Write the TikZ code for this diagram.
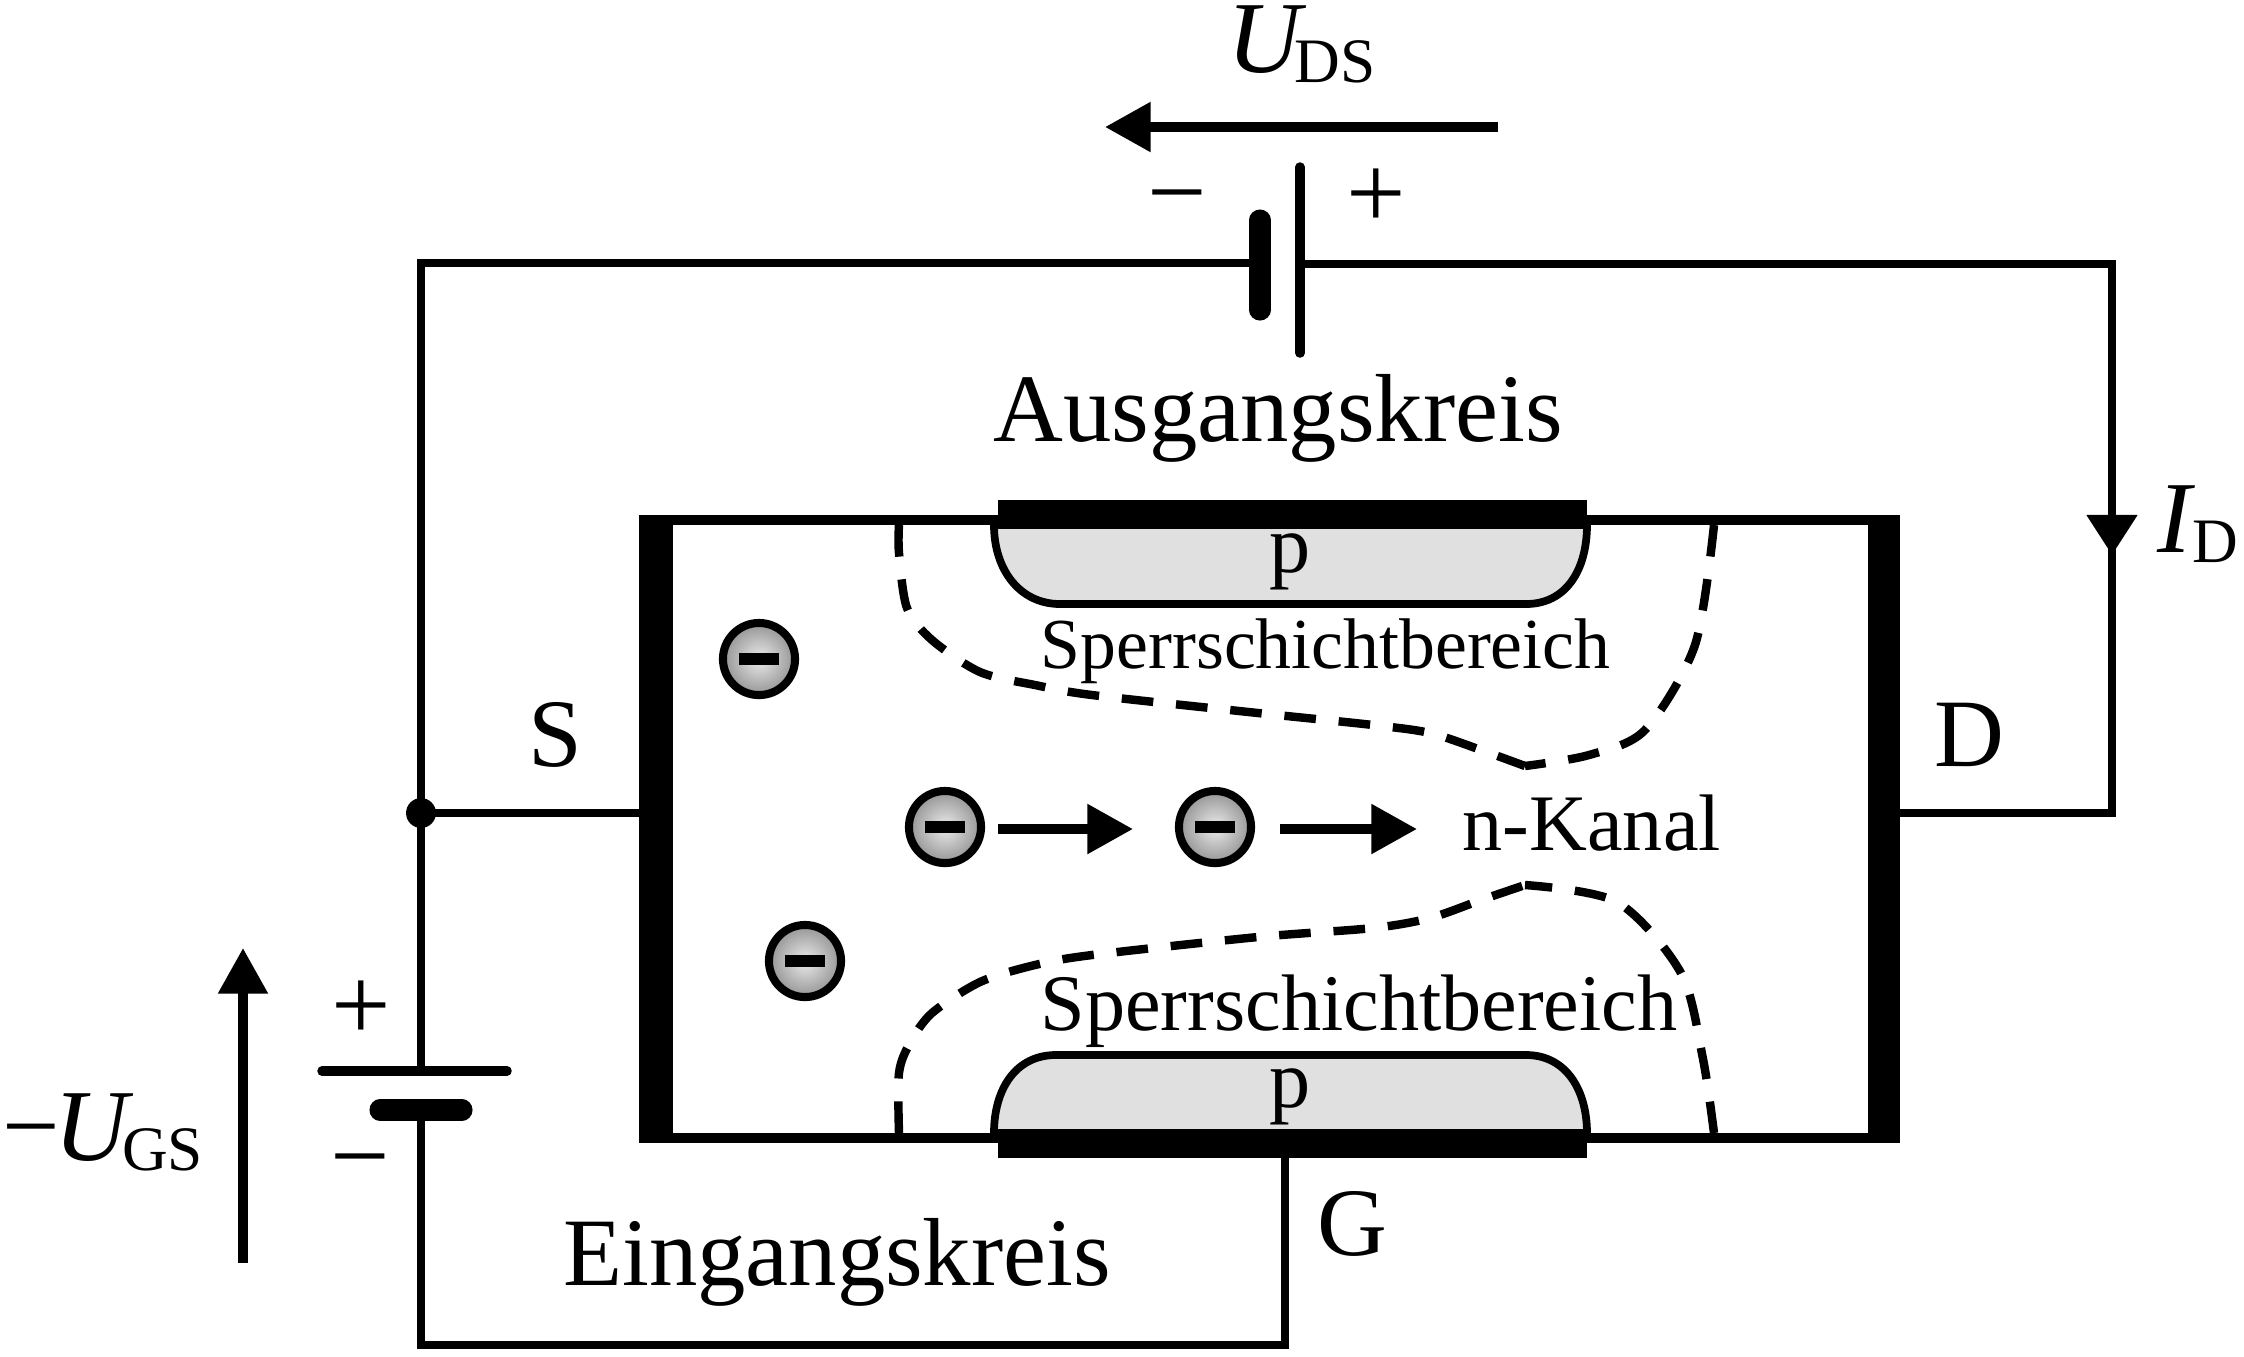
\documentclass[tikz,border=0pt]{standalone}
\usepackage{fontspec}
\setmainfont{Liberation Serif}
\usepackage{tikz}
\usetikzlibrary{arrows.meta}

\newcommand{\fs}[1]{\fontsize{#1}{#1}\selectfont}
\newcommand{\subfs}[3]{\textit{#1}\kern#2\raisebox{-2.85pt}{\fs{18}#3}}

\tikzset{
  wire/.style={line width=2.5pt},
  bar/.style={fill=black,draw=none},
  plate/.style={line width=6pt,line cap=round},
  longplate/.style={line width=2.7pt,line cap=round},
  arr/.style={line width=2.7pt,-{Triangle[length=13pt,width=13.6pt]}},
  depl/.style={line width=2.4pt,dash pattern=on 9pt off 6.5pt},
  pzone/.style={line width=2.2pt,fill=black!12},
  lab/.style={inner sep=0pt,anchor=base,font=\fs{27.5}},
  labw/.style={inner sep=0pt,anchor=base west,font=\fs{22.8}},
  sign/.style={inner sep=0pt,font=\fs{30}},
  volt/.style={inner sep=0pt,anchor=base west,font=\fs{29}},
  electron/.style={circle,draw,line width=2.3pt,inner sep=0pt,minimum size=20.5pt,
    inner color=black!8,outer color=black!42,
    path picture={\fill (path picture bounding box.center) +(-5.7pt,-1.8pt) rectangle +(5.7pt,1.8pt);}}
}

\begin{document}
\begin{tikzpicture}[x=0.01cm,y=-0.01cm]
\useasboundingbox (0,0) rectangle (2244,1356);
%
\coordinate (dsminus) at (1260,263);
\coordinate (dsplus) at (1300,264);
\coordinate (cornerTL) at (421,263);
\coordinate (cornerTR) at (2112,264);
\coordinate (idtip) at (2112,555);
\coordinate (idstem) at (2112,535);
\coordinate (cornerR) at (2112,813);
\coordinate (drain) at (1884,813);
\coordinate (source) at (655,813);
\coordinate (gsplus) at (421,1071);
\coordinate (gsminus) at (421,1110);
\coordinate (cornerBL) at (421,1345);
\coordinate (cornerBR) at (1285,1345);
\coordinate (gate) at (1285,1150);
%
% channel
\draw[line width=2.6pt] (639,520) -- (1900,520);
\draw[line width=2.6pt] (639,1138) -- (1900,1138);
\fill[bar] (639,515) rectangle (673,1143);
\fill[bar] (1868,515) rectangle (1900,1143);
%
% p zones
\draw[pzone] (994,525) .. controls (994,570) and (1020,604) .. (1060,604) -- (1526,604) .. controls (1566,604) and (1587,570) .. (1587,525) -- cycle;
\draw[pzone] (994,1133) .. controls (994,1090) and (1015,1055) .. (1056,1055) -- (1526,1055) .. controls (1566,1055) and (1587,1090) .. (1587,1133) -- cycle;
\fill[bar] (998,500) rectangle (1587,525);
\fill[bar] (998,1133) rectangle (1587,1158);
\node[lab,font=\fs{23.4}] (ptop) at (1290,572) {p};
\node[lab,font=\fs{23.4}] (pbot) at (1290,1107) {p};
%
% depletion edges
\draw[depl] plot[smooth] coordinates {(899,525) (899,553) (907,608) (932,640) (980,672) (1035,685) (1092,695) (1258,713) (1373,725) (1430,733) (1481,750) (1525,766)};
\draw[depl] plot[smooth] coordinates {(1714,525) (1695,645) (1645,730) (1589,755) (1525,766)};
\draw[depl] plot[smooth] coordinates {(899,1133) (899,1073) (910,1043) (932,1013) (980,982) (1035,965) (1092,955) (1258,937) (1373,928) (1430,918) (1481,900) (1525,885)};
\draw[depl] plot[smooth] coordinates {(1714,1133) (1703,1059) (1681,973) (1617,902) (1525,885)};
%
% electrons
\node[electron] (e1) at (759,659) {};
\node[electron] (e2) at (805,961) {};
\node[electron] (e3) at (945,827) {};
\node[electron] (e4) at (1215,827) {};
\coordinate (tip1) at (1133,829);
\coordinate (tip2) at (1417,829);
\draw[arr] (e3.east) ++(13,2) -- (tip1);
\draw[arr] (e4.east) ++(25,2) -- (tip2);
%
% circuit
\node[circle,fill,inner sep=0pt,outer sep=0pt,minimum size=8.5pt] (dot) at (421,813) {};
\draw[wire] (dsminus) -- (cornerTL) -- (gsplus);
\draw[wire,-{Triangle[length=11.4pt,width=13.9pt]}] (dsplus) -- (cornerTR) -- (idtip);
\draw[wire] (idstem) -- (cornerR) -- (drain);
\draw[wire] (gsminus) -- (cornerBL) -- (cornerBR) -- (gate);
\draw[wire] (dot.center) -- (source);
%
% batteries
\draw[plate] (1260,220) -- (1260,310);
\draw[longplate] (1300,167) -- (1300,353);
\draw[longplate] (322,1071) -- (507,1071);
\draw[plate] (380,1110) -- (462,1110);
%
% voltage arrows
\coordinate (dsfrom) at (1498,127);
\coordinate (dsto) at (1105,127);
\coordinate (gsfrom) at (243,1263);
\coordinate (gsto) at (243,948);
\draw[arr] (dsfrom) -- (dsto);
\draw[arr] (gsfrom) -- (gsto);
%
% labels
\node[sign] (dm) at (1177,209) {\textminus};
\node[sign] (dp) at (1376,199) {+};
\node[sign] (gp) at (361,1011) {+};
\node[sign] (gm) at (360,1173) {\textminus};
\node[lab] (aus) at (1278,441) {Ausgangskreis};
\node[lab] (ein) at (837,1285) {Eingangskreis};
\node[lab] (s) at (555,766) {S};
\node[lab] (d) at (1969,766) {D};
\node[lab] (g) at (1352,1255) {G};
\node[labw,font=\fs{20.4}] (sp1) at (1040,668) {Sperrschichtbereich};
\node[labw] (sp2) at (1040,1030) {Sperrschichtbereich};
\node[labw] (nk) at (1462,850) {n-Kanal};
\node[volt] (uds) at (1227,72) {\subfs{U}{-3.4pt}{DS}};
\node[volt] (ugs) at (2,1160) {\textminus\kern-1.5pt\subfs{U}{-3.4pt}{GS}};
\node[volt] (id) at (2157,552) {\subfs{I}{-1pt}{D}};
%
\end{tikzpicture}
\end{document}
